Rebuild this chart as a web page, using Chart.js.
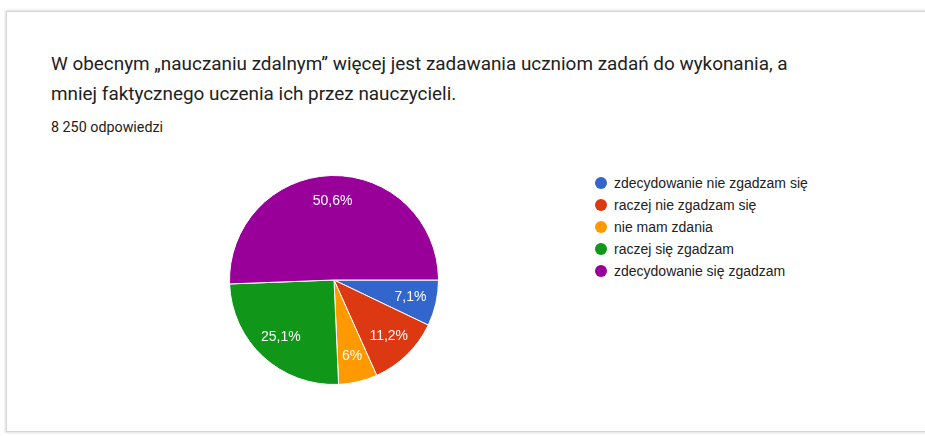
<!DOCTYPE html>
<html>
<head>
<meta charset="utf-8">
<script src="https://cdn.jsdelivr.net/npm/chart.js@4"></script>
<style>
  html, body { margin:0; padding:0; background:#fff; width:925px; height:436px; overflow:hidden; }
  #card { position:absolute; left:6px; top:11px; width:940px; height:419px; border:1px solid #d6d6d6; box-shadow:0 0 2px 1px #e0e0e0; background:#fff; }
  #title { position:absolute; left:51px; top:49px; width:860px; font-family:Roboto, "Noto Sans", sans-serif; font-size:18.9px; line-height:30px; color:#222; }
  #sub { position:absolute; left:51px; top:119px; font-family:Roboto, sans-serif; font-size:14.3px; color:#222; }
  #wrap { position:absolute; left:229px; top:175px; width:210px; height:210px; }
  #legend { position:absolute; left:595px; top:172px; font-family:"Liberation Sans", Arial, sans-serif; font-size:14px; color:#222; }
  .li { height:22px; line-height:16px; display:flex; align-items:center; }
  .dot { width:12px; height:12px; border-radius:50%; margin-right:7px; }
</style>
</head>
<body>
<div id="card"></div>
<div id="title">W obecnym „nauczaniu zdalnym” więcej jest zadawania uczniom zadań do wykonania, a<br>mniej faktycznego uczenia ich przez nauczycieli.</div>
<div id="sub">8 250 odpowiedzi</div>
<div id="wrap"><canvas id="c" width="210" height="210"></canvas></div>
<div id="legend"></div>
<script>
const categories = ["zdecydowanie nie zgadzam się", "raczej nie zgadzam się", "nie mam zdania", "raczej się zgadzam", "zdecydowanie się zgadzam"];
const values = [7.1, 11.2, 6, 25.1, 50.6];
const colors = ["#3366cc", "#dc3912", "#ff9900", "#109618", "#990099"];

const labelPlugin = {
  id: 'pieLabels',
  afterDatasetsDraw(chart) {
    const ctx = chart.ctx;
    const meta = chart.getDatasetMeta(0);
    ctx.save();
    ctx.font = '14px "Liberation Sans", Arial, sans-serif';
    ctx.fillStyle = '#ffffff';
    ctx.textAlign = 'center';
    ctx.textBaseline = 'middle';
    meta.data.forEach((arc, i) => {
      const p = arc.getProps(['x','y','startAngle','endAngle','outerRadius'], true);
      const mid = (p.startAngle + p.endAngle) / 2;
      const r = p.outerRadius * 0.75;
      const txt = String(values[i]).replace('.', ',') + '%';
      ctx.fillText(txt, p.x + Math.cos(mid) * r, p.y + Math.sin(mid) * r);
    });
    ctx.restore();
  }
};

const chart = new Chart(document.getElementById('c'), {
  type: 'pie',
  data: { labels: categories, datasets: [{ data: values, backgroundColor: colors, borderColor: '#ffffff', borderWidth: 1 }] },
  options: {
    responsive: false,
    animation: false,
    rotation: 90,
    layout: { padding: 0 },
    plugins: { legend: { display: false }, tooltip: { enabled: false } }
  },
  plugins: [labelPlugin]
});

const lg = document.getElementById('legend');
chart.data.labels.forEach((lab, i) => {
  const row = document.createElement('div');
  row.className = 'li';
  const d = document.createElement('span');
  d.className = 'dot';
  d.style.background = chart.data.datasets[0].backgroundColor[i];
  const t = document.createElement('span');
  t.textContent = lab;
  row.appendChild(d); row.appendChild(t);
  lg.appendChild(row);
});
</script>
</body>
</html>
